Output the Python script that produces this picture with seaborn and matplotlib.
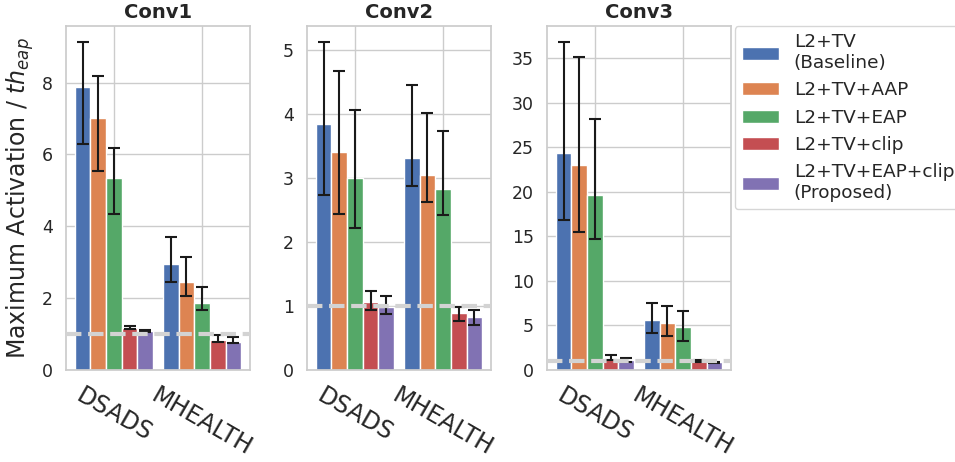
import matplotlib
matplotlib.use("Agg")
import matplotlib.pyplot as plt
import seaborn as sns
import pandas as pd
import numpy as np

datasets = ["DSADS", "MHEALTH"]
methods = ["L2+TV\n(Baseline)", "L2+TV+AAP", "L2+TV+EAP", "L2+TV+clip",
           "L2+TV+EAP+clip\n(Proposed)"]
layers = ["Conv1", "Conv2", "Conv3"]

# mean values per layer: [dataset][method]
means = {
    "Conv1": [[7.87, 7.02, 5.34, 1.18, 1.09],
              [2.95, 2.44, 1.86, 0.83, 0.78]],
    "Conv2": [[3.84, 3.41, 3.00, 1.06, 0.99],
              [3.31, 3.04, 2.83, 0.89, 0.83]],
    "Conv3": [[24.3, 23.0, 19.6, 1.3, 1.1],
              [5.6, 5.3, 4.8, 1.0, 0.9]],
}
# error bar ends (low, high)
err_low = {
    "Conv1": [[6.30, 5.55, 4.35, 1.14, 1.06],
              [2.46, 2.07, 1.67, 0.79, 0.76]],
    "Conv2": [[2.74, 2.44, 2.22, 0.94, 0.88],
              [2.87, 2.63, 2.42, 0.77, 0.70]],
    "Conv3": [[16.8, 15.5, 14.7, 1.1, 0.9],
              [4.1, 3.8, 3.3, 0.9, 0.8]],
}
err_high = {
    "Conv1": [[9.12, 8.19, 6.17, 1.22, 1.12],
              [3.71, 3.14, 2.30, 0.97, 0.92]],
    "Conv2": [[5.12, 4.67, 4.06, 1.24, 1.15],
              [4.45, 4.02, 3.73, 0.99, 0.93]],
    "Conv3": [[36.75, 35.1, 28.1, 1.7, 1.3],
              [7.5, 7.2, 6.65, 1.1, 0.95]],
}

rows = []
for layer in layers:
    for i, ds in enumerate(datasets):
        for j, m in enumerate(methods):
            rows.append({"layer": layer, "dataset": ds, "method": m,
                         "value": means[layer][i][j],
                         "lo": err_low[layer][i][j], "hi": err_high[layer][i][j]})
df = pd.DataFrame(rows)

sns.set_theme(style="whitegrid", palette="deep")
plt.rcParams['font.family'] = ['DejaVu Sans']

fig = plt.figure(figsize=(9.55, 4.62), dpi=100)
W, H = 955, 462
lefts = [66, 307, 547]
axes = [fig.add_axes([l / W, 1 - 370 / H, 184 / W, 344 / H]) for l in lefts]

for ax, layer in zip(axes, layers):
    sub = df[df["layer"] == layer]
    sns.barplot(data=sub, x="dataset", y="value", hue="method", hue_order=methods,
                order=datasets, width=0.89, errorbar=None, ax=ax, saturation=1,
                edgecolor="white", linewidth=1)
    for container, m in zip(ax.containers, methods):
        s = sub[sub["method"] == m].set_index("dataset").loc[datasets]
        xs = [p.get_x() + p.get_width() / 2 for p in container.patches]
        yerr = np.vstack([s["value"] - s["lo"], s["hi"] - s["value"]])
        ax.errorbar(xs, s["value"], yerr=yerr, fmt="none", ecolor="#1a1a1a",
                    elinewidth=1.5, capsize=4, capthick=1.5, zorder=3)
    ax.axhline(1, color="lightgray", linestyle="--", linewidth=3, zorder=4)
    ax.set_xlim(-0.545, 1.545)
    top = sub["hi"].max() * 1.05
    ax.set_ylim(0, top)
    ax.xaxis.grid(True)
    ax.set_axisbelow(True)
    ax.set_title(layer, fontsize=14, fontweight="bold")
    ax.set_xlabel("")
    ax.set_ylabel("")
    ax.tick_params(axis="y", labelsize=12.5)
    ax.tick_params(axis="x", labelsize=17)
    for lab in ax.get_xticklabels():
        lab.set_rotation(-30)
        lab.set_ha("center")
    ax.get_legend().remove()

axes[0].set_ylabel("Maximum Activation / $th_{eap}$", fontsize=17)

handles, labels = axes[2].get_legend_handles_labels()
axes[2].legend(handles, labels, loc="upper left", bbox_to_anchor=(1.02, 1.0),
               fontsize=13.3, borderaxespad=0)

fig.savefig("out.png", dpi=100)
